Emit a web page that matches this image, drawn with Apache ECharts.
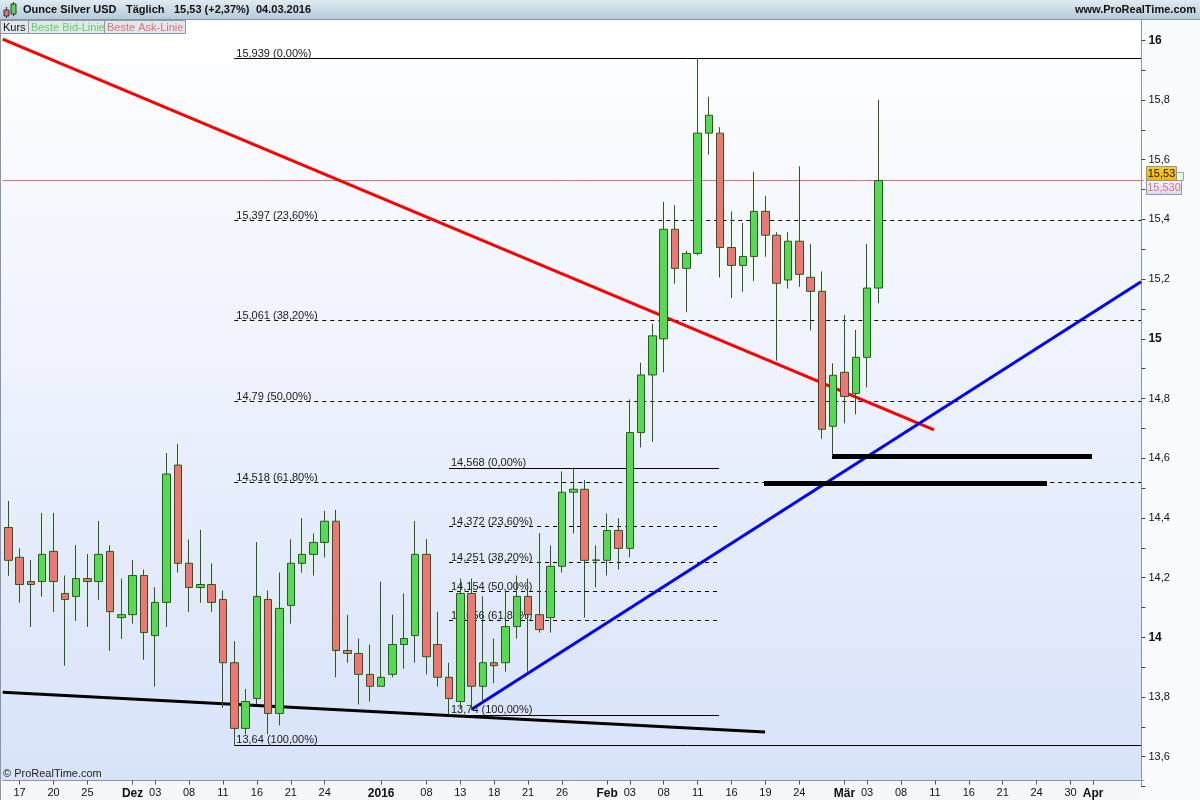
<!DOCTYPE html>
<html><head><meta charset="utf-8">
<script src="https://cdn.jsdelivr.net/npm/echarts@6/dist/echarts.min.js"></script>
<style>html,body{margin:0;padding:0;background:#fff}#c{width:1200px;height:800px}</style>
</head><body><div id="c"></div>
<script>
const FONT = 'Liberation Sans, Arial, sans-serif';

const dates = [
'2015-11-16','2015-11-17','2015-11-18','2015-11-19','2015-11-20',
'2015-11-23','2015-11-24','2015-11-25','2015-11-26','2015-11-27',
'2015-11-30','2015-12-01','2015-12-02','2015-12-03','2015-12-04',
'2015-12-07','2015-12-08','2015-12-09','2015-12-10','2015-12-11',
'2015-12-14','2015-12-15','2015-12-16','2015-12-17','2015-12-18',
'2015-12-21','2015-12-22','2015-12-23','2015-12-24',
'2015-12-28','2015-12-29','2015-12-30','2015-12-31',
'2016-01-04','2016-01-05','2016-01-06','2016-01-07','2016-01-08',
'2016-01-11','2016-01-12','2016-01-13','2016-01-14','2016-01-15',
'2016-01-18','2016-01-19','2016-01-20','2016-01-21','2016-01-22',
'2016-01-25','2016-01-26','2016-01-27','2016-01-28','2016-01-29',
'2016-02-01','2016-02-02','2016-02-03','2016-02-04','2016-02-05',
'2016-02-08','2016-02-09','2016-02-10','2016-02-11','2016-02-12',
'2016-02-15','2016-02-16','2016-02-17','2016-02-18','2016-02-19',
'2016-02-22','2016-02-23','2016-02-24','2016-02-25','2016-02-26',
'2016-02-29',
'2016-03-01','2016-03-02','2016-03-03','2016-03-04',
'2016-03-07','2016-03-08','2016-03-09','2016-03-10','2016-03-11',
'2016-03-14','2016-03-15','2016-03-16','2016-03-17','2016-03-18',
'2016-03-21','2016-03-22','2016-03-23','2016-03-24',
'2016-03-28','2016-03-29','2016-03-30','2016-03-31',
'2016-04-01','2016-04-04','2016-04-05','2016-04-06','2016-04-07'
];

const openP = [14.368,14.268,14.187,14.187,14.288,14.147,14.137,14.197,14.187,14.288,
14.066,14.076,14.207,14.006,14.117,14.577,14.248,14.167,14.177,14.127,
13.915,13.695,13.795,14.127,13.745,14.107,14.248,14.278,14.318,14.389,
13.956,13.946,13.876,13.836,13.876,13.976,14.006,14.278,13.976,13.866,
13.785,14.147,13.836,13.915,13.915,14.036,14.137,14.076,14.066,14.238,
14.486,14.496,14.258,14.258,14.358,14.298,14.686,14.879,15.000,15.367,
15.236,15.286,15.689,15.689,15.306,15.246,15.276,15.427,15.347,15.197,
15.327,15.206,15.159,14.707,14.888,14.817,14.938,15.170];
const highP = [14.457,14.298,14.259,14.417,14.417,14.207,14.309,14.279,14.390,14.308,
14.197,14.259,14.227,14.168,14.617,14.648,14.328,14.360,14.248,14.157,
13.987,13.827,14.319,14.157,14.217,14.328,14.399,14.348,14.424,14.427,
14.076,13.996,13.976,14.187,14.076,14.147,14.390,14.329,14.086,13.915,
14.197,14.197,14.137,13.996,14.157,14.207,14.197,14.349,14.308,14.556,
14.568,14.527,14.308,14.415,14.399,14.797,14.920,15.050,15.459,15.448,
15.296,15.939,15.811,15.709,15.427,15.388,15.559,15.479,15.357,15.357,
15.578,15.318,15.226,14.918,15.080,15.030,15.318,15.801];
const lowP = [14.206,14.116,14.035,14.136,14.085,13.905,14.055,14.035,14.126,13.955,
13.995,14.046,13.925,13.835,14.035,14.217,14.085,14.116,14.085,13.764,
13.640,13.675,13.775,13.675,13.705,14.046,14.217,14.207,14.268,13.866,
13.915,13.775,13.785,13.836,13.866,13.895,13.915,13.876,13.835,13.740,
13.760,13.755,13.785,13.846,13.885,13.996,13.885,14.016,14.016,14.217,
14.348,14.066,14.167,14.207,14.227,14.268,14.636,14.655,14.888,15.185,
15.089,15.280,15.617,15.205,15.137,15.158,15.194,15.275,14.927,15.168,
15.174,15.028,14.665,14.608,14.717,14.747,14.837,15.119];
const closeP = [14.258,14.177,14.177,14.278,14.187,14.127,14.197,14.187,14.278,14.086,
14.076,14.207,14.016,14.117,14.547,14.248,14.167,14.177,14.117,13.915,
13.695,13.785,14.137,13.745,14.097,14.248,14.278,14.318,14.389,13.956,
13.946,13.876,13.836,13.866,13.976,13.996,14.278,13.935,13.866,13.795,
14.147,13.836,13.915,13.905,14.036,14.137,14.076,14.026,14.238,14.486,
14.496,14.258,14.259,14.358,14.298,14.686,14.879,15.010,15.367,15.236,
15.286,15.689,15.749,15.306,15.246,15.276,15.427,15.347,15.186,15.327,
15.216,15.159,14.697,14.878,14.807,14.938,15.170,15.530];

const tickDates = ['2015-11-17','2015-11-20','2015-11-25','2015-12-01','2015-12-03','2015-12-08','2015-12-11','2015-12-16','2015-12-21','2015-12-24','2016-01-04','2016-01-08','2016-01-13','2016-01-18','2016-01-21','2016-01-26','2016-02-01','2016-02-03','2016-02-08','2016-02-11','2016-02-16','2016-02-19','2016-02-24','2016-03-01','2016-03-03','2016-03-08','2016-03-11','2016-03-16','2016-03-21','2016-03-24','2016-03-30','2016-04-01'];
const tickLabels = ['17','20','25','Dez','03','08','11','16','21','24','2016','08','13','18','21','26','Feb','03','08','11','16','19','24','Mär','03','08','11','16','21','24','30','Apr'];
const boldTickLabels = ['Dez','2016','Feb','Mär','Apr'];

// Fibonacci retracements: [price, label]
const fibBigPrices = [15.939,15.397,15.061,14.79,14.518,13.64];
const fibBigLabels = ['15,939 (0,00%)','15,397 (23,60%)','15,061 (38,20%)','14,79 (50,00%)','14,518 (61,80%)','13,64 (100,00%)'];
const fibBigSpan = [20, 100.24];
const fibSmallPrices = [14.568,14.372,14.251,14.154,14.056,13.74];
const fibSmallLabels = ['14,568 (0,00%)','14,372 (23,60%)','14,251 (38,20%)','14,154 (50,00%)','14,056 (61,80%)','13,74 (100,00%)'];
const fibSmallSpan = [39, 62.9];
const fibSolid = [true,false,false,false,false,true];

// trend lines: [[xIndex, price],[xIndex, price]]
const redTrend = [[-0.5,16.004],[81.92,14.695]];
const blueTrend = [[41.01,13.759],[100.24,15.191]];
const blackTrend = [[-0.5,13.816],[66.97,13.683]];
const support1 = [[72.9,14.608],[95.9,14.608]];
const support2 = [[66.88,14.516],[91.92,14.516]];

const lastPrice = 15.53;
const lastPriceLabel = '15,53';
const askLabel = '15,530';

const tickSet = new Set(tickDates);
const tickMap = {}; tickDates.forEach((d,i)=>tickMap[d]=tickLabels[i]);

const candles = openP.map((o,i)=>[o, closeP[i], lowP[i], highP[i]]);

function seg(pts, color, width, type){
  return [{coord:pts[0], lineStyle:{color, width, type}, label:{show:false}}, {coord:pts[1]}];
}
const mlData = [];
function addFib(prices, labels, span){
  prices.forEach((p,i)=>{
    mlData.push([{coord:[span[0],p], lineStyle:{color:'#000', width:1, type: fibSolid[i] ? 'solid' : [4,4]},
      label:{show:true, position:'insideStartTop', formatter: labels[i], color:'#1a1a1a', fontSize:11, fontFamily:FONT, distance:[2,-1]}},
      {coord:[span[1],p]}]);
  });
}
addFib(fibBigPrices, fibBigLabels, fibBigSpan);
addFib(fibSmallPrices, fibSmallLabels, fibSmallSpan);
mlData.push(seg(redTrend,'#ff0000',3,'solid'));
mlData.push(seg(blueTrend,'#0000ff',3,'solid'));
mlData.push(seg(blackTrend,'#000000',3,'solid'));
mlData.push(seg(support1,'#000000',5,'solid'));
mlData.push(seg(support2,'#000000',5,'solid'));

const chart = echarts.init(document.getElementById('c'), null, {renderer:'canvas'});

const staticGraphics = [
  {type:'rect', z:-10, shape:{x:0,y:20,width:1141,height:760}, style:{fill:{type:'linear',x:0,y:0,x2:0,y2:1,colorStops:[{offset:0,color:'#ffffff'},{offset:1,color:'#d8e3fa'}]}}},
  {type:'rect', z:-10, shape:{x:1141,y:20,width:59,height:780}, style:{fill:'#fafbfd'}},
  {type:'rect', z:-10, shape:{x:0,y:780,width:1141,height:20}, style:{fill:'#f6f7f9'}},
  {type:'line', z:-9, shape:{x1:0.5,y1:20,x2:0.5,y2:800}, style:{stroke:'#8796a5',lineWidth:1}},
  // header
  {type:'rect', z:100, shape:{x:0,y:0,width:1200,height:20}, style:{fill:{type:'linear',x:0,y:0,x2:0,y2:1,colorStops:[{offset:0,color:'#e0ebf3'},{offset:1,color:'#b3c8d7'}]}}},
  {type:'line', z:101, shape:{x1:0,y1:19.5,x2:1200,y2:19.5}, style:{stroke:'#8796a5',lineWidth:1}},
  {type:'line', z:101, shape:{x1:6.5,y1:7,x2:6.5,y2:18}, style:{stroke:'#333',lineWidth:1}},
  {type:'rect', z:102, shape:{x:4,y:10,width:5,height:6}, style:{fill:'#ea6e6e',stroke:'#333',lineWidth:1}},
  {type:'line', z:101, shape:{x1:13.5,y1:2,x2:13.5,y2:16}, style:{stroke:'#333',lineWidth:1}},
  {type:'rect', z:102, shape:{x:11,y:4,width:5,height:10}, style:{fill:'#55d855',stroke:'#333',lineWidth:1}},
  {type:'text', z:103, x:23, y:10, style:{text:'Ounce Silver USD', font:'bold 11px '+FONT, fill:'#111', verticalAlign:'middle'}},
  {type:'text', z:103, x:126, y:10, style:{text:'Täglich', font:'bold 11px '+FONT, fill:'#111', verticalAlign:'middle'}},
  {type:'text', z:103, x:174, y:10, style:{text:'15,53 (+2,37%)', font:'bold 11px '+FONT, fill:'#111', verticalAlign:'middle'}},
  {type:'text', z:103, x:256, y:10, style:{text:'04.03.2016', font:'bold 11px '+FONT, fill:'#111', verticalAlign:'middle'}},
  {type:'text', z:103, x:1196, y:10, style:{text:'www.ProRealTime.com', font:'bold 11px '+FONT, fill:'#111', verticalAlign:'middle', align:'right'}},
  // legend boxes
  {type:'rect', z:100, shape:{x:0.5,y:20.5,width:28,height:13}, style:{fill:'#e2e7ec',stroke:'#8c9aa8',lineWidth:1}},
  {type:'rect', z:100, shape:{x:28.5,y:20.5,width:76,height:13}, style:{fill:'#e2e7ec',stroke:'#8c9aa8',lineWidth:1}},
  {type:'rect', z:100, shape:{x:104.5,y:20.5,width:81,height:13}, style:{fill:'#e2e7ec',stroke:'#8c9aa8',lineWidth:1}},
  {type:'text', z:101, x:3, y:27.5, style:{text:'Kurs', font:'11px '+FONT, fill:'#111', verticalAlign:'middle'}},
  {type:'text', z:101, x:31, y:27.5, style:{text:'Beste Bid-Linie', font:'11px '+FONT, fill:'#62d062', verticalAlign:'middle'}},
  {type:'text', z:101, x:107, y:27.5, style:{text:'Beste Ask-Linie', font:'11px '+FONT, fill:'#e07070', verticalAlign:'middle'}},
  {type:'text', z:50, x:3, y:774, style:{text:'© ProRealTime.com', font:'11px '+FONT, fill:'#222', verticalAlign:'middle'}}
];

const option = {
  animation:false,
  backgroundColor:'#ffffff',
  grid:{left:2.65, right:56.05, top:20, bottom:13.4, containLabel:false, outerBoundsMode:'none'},
  xAxis:[{
    type:'category', data:dates, boundaryGap:true, offset:-6,
    axisLine:{show:true, onZero:false, lineStyle:{color:'#8796a5', width:1}},
    axisTick:{show:true, alignWithLabel:true, length:4, interval:(i,v)=>tickSet.has(v), lineStyle:{color:'#555'}},
    axisLabel:{show:true, interval:(i,v)=>tickSet.has(v), margin:7, fontSize:11, fontFamily:FONT, color:'#111',
      formatter:(v)=>{const t=tickMap[v]; if(!t) return ''; return boldTickLabels.includes(t)?'{b|'+t+'}':t;},
      rich:{b:{fontWeight:'bold', fontSize:12, fontFamily:FONT, color:'#111'}}},
    splitLine:{show:false}
  },{
    type:'value', min:-0.5, max:100.5, show:false, axisLine:{onZero:false}
  }],
  yAxis:{
    type:'value', position:'right', min:13.5, max:16.068, interval:0.1, offset:-2.5,
    axisLine:{show:true, onZero:false, lineStyle:{color:'#8796a5'}},
    axisTick:{show:true, length:4, lineStyle:{color:'#444'}},
    axisLabel:{margin:7, fontSize:11, fontFamily:FONT, color:'#111', showMaxLabel:false,
      formatter:(v)=>{const r=Math.round(v*10); if(r%2!==0) return ''; const t=String(r/10).replace('.',','); return r%10===0?'{b|'+t+'}':t;},
      rich:{b:{fontWeight:'bold', fontSize:12, fontFamily:FONT, color:'#111'}}},
    splitLine:{show:false}
  },
  series:[
    {
      type:'candlestick', data:candles, barWidth:8, z:5,
      itemStyle:{color:'#57d957', color0:'#ee7676', borderColor:'#2b5c14', borderColor0:'#2b5c14', borderWidth:1},
      markLine:{symbol:['none','none'], silent:true, animation:false, label:{show:false},
        lineStyle:{color:'#e27272', width:1, type:'solid'}, data:[{yAxis:lastPrice}]}
    },
    {
      type:'line', xAxisIndex:1, yAxisIndex:0, data:[[-0.5,13.5]], symbol:'none', lineStyle:{opacity:0}, z:6,
      markLine:{symbol:['none','none'], silent:true, animation:false, precision:3, data:mlData}
    }
  ],
  graphic: staticGraphics
};
chart.setOption(option);

const py = chart.convertToPixel({yAxisIndex:0}, lastPrice);
chart.setOption({graphic: staticGraphics.concat([
  {type:'rect', z:110, shape:{x:1175.5,y:Math.round(py)-8.5,width:8,height:8}, style:{fill:'#eef3ee',stroke:'#6ac86a',lineWidth:1}},
  {type:'rect', z:111, shape:{x:1146.5,y:Math.round(py)-14.5,width:30,height:14}, style:{fill:{type:'linear',x:0,y:0,x2:0,y2:1,colorStops:[{offset:0,color:'#ffd21a'},{offset:1,color:'#f2b400'}]},stroke:'#8a98a6',lineWidth:1}},
  {type:'text', z:112, x:1161.5, y:Math.round(py)-7.5, style:{text:lastPriceLabel, font:'11px '+FONT, fill:'#111', align:'center', verticalAlign:'middle'}},
  {type:'rect', z:111, shape:{x:1146.5,y:Math.round(py)-0.5,width:35,height:14}, style:{fill:{type:'linear',x:0,y:0,x2:0,y2:1,colorStops:[{offset:0,color:'#f2f2fb'},{offset:1,color:'#dcdcef'}]},stroke:'#8a98a6',lineWidth:1}},
  {type:'text', z:112, x:1164, y:Math.round(py)+6.5, style:{text:askLabel, font:'11px '+FONT, fill:'#e46f80', align:'center', verticalAlign:'middle'}}
])}, {replaceMerge:['graphic']});
</script>
</body></html>
